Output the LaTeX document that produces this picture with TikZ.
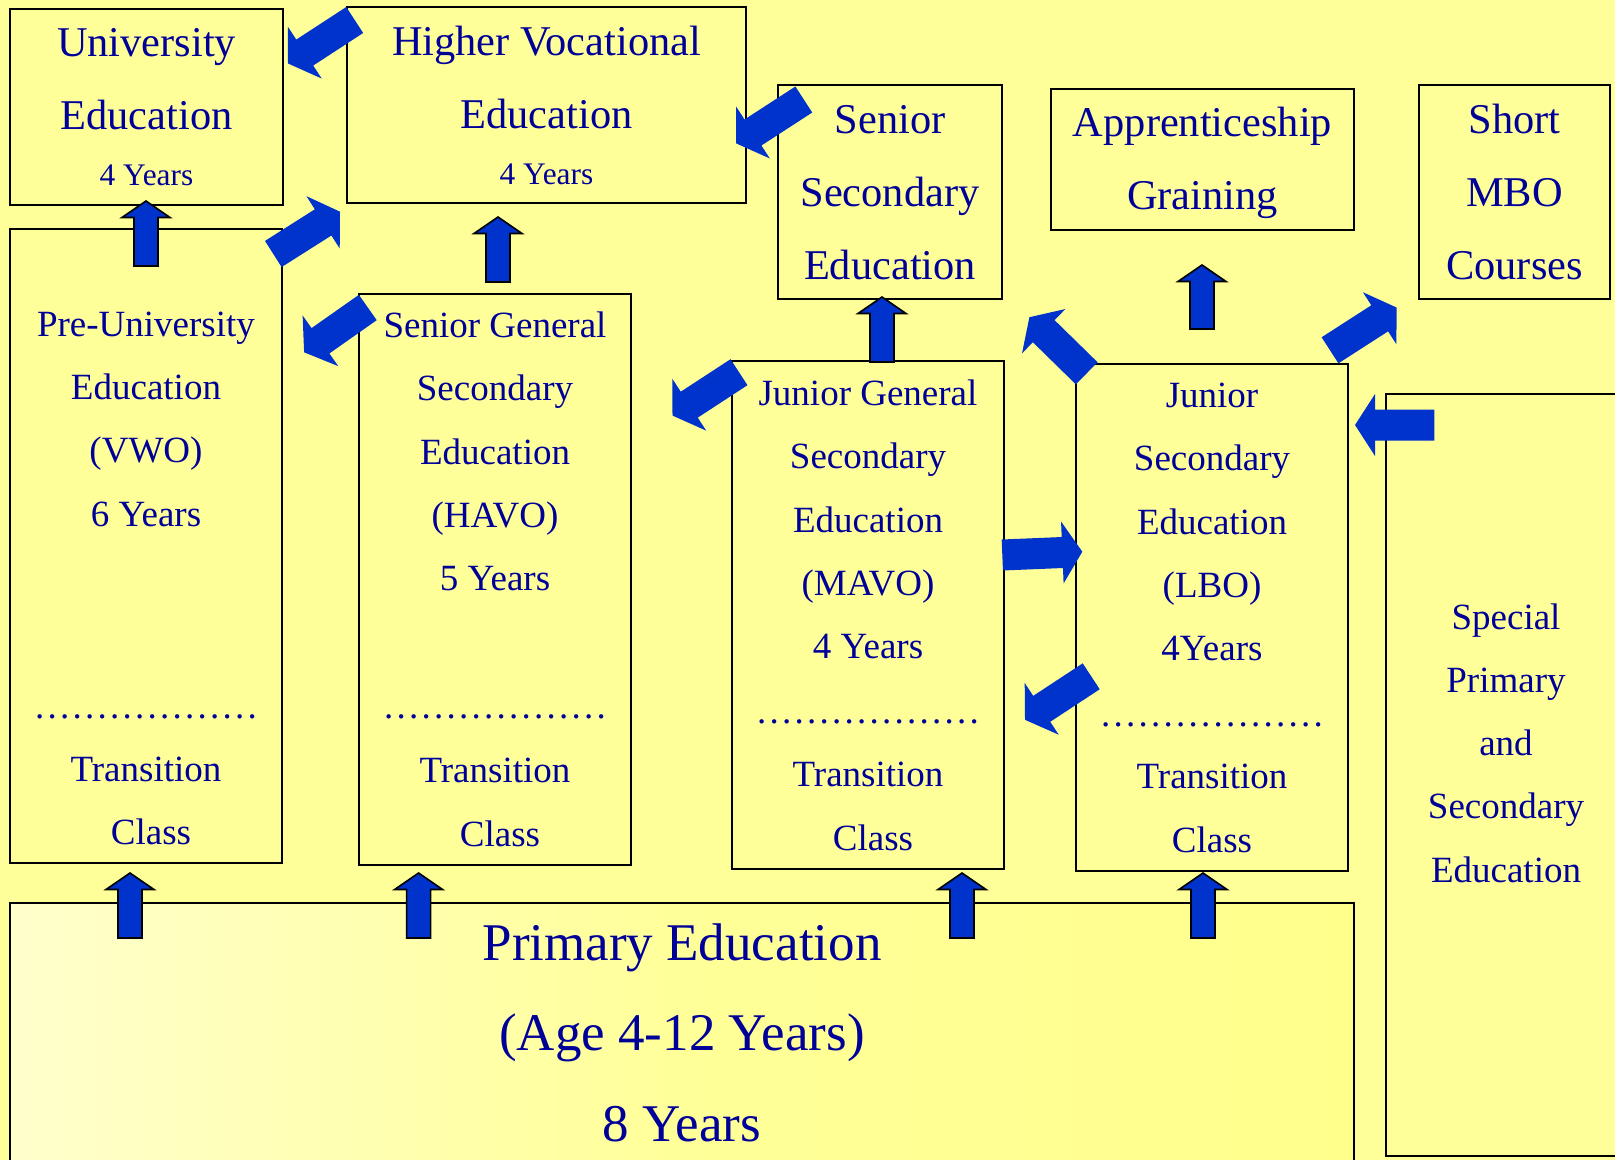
\documentclass[tikz,border=0pt]{standalone}
\usepackage{fontspec}
\setmainfont{Liberation Serif}
\usetikzlibrary{calc,fit}
\definecolor{paper}{RGB}{255,255,153}
\definecolor{ink}{RGB}{0,0,153}
\definecolor{arrowblue}{RGB}{0,51,204}
\definecolor{paperlight}{RGB}{255,255,204}
\definecolor{paperdeep}{RGB}{255,255,140}

\tikzset{
  box/.style={draw=black, line width=1pt, fill=paper, inner sep=0pt},
  txt/.style={text=ink, anchor=base, inner sep=0pt, font=\fontsize{18.5}{22}\selectfont},
  headtxt/.style={txt, font=\fontsize{21.2}{25}\selectfont},
  yeartxt/.style={txt, font=\fontsize{15.7}{19}\selectfont},
  primtxt/.style={txt, font=\fontsize{26.5}{31}\selectfont},
  flat/.style={fill=arrowblue, draw=none},
  edged/.style={fill=arrowblue, draw=black, line width=0.8pt, line join=miter},
}

% fat arrow: [style]{tail}{tip}{half shaft}{half head}{head length}
\newcommand{\blockarrow}[6][flat]{%
  \path ($(#3)!#6!(#2)$) coordinate (ba-base);
  \filldraw[#1] ($(#2)!#4!90:(#3)$) -- ($(ba-base)!#4!90:(#3)$)
    -- ($(ba-base)!#5!90:(#3)$) -- (#3) -- ($(ba-base)!#5!-90:(#3)$)
    -- ($(ba-base)!#4!-90:(#3)$) -- ($(#2)!#4!-90:(#3)$) -- cycle;}
\newcommand{\dotrow}{\hbox to 112.5pt{\leaders\hbox to 6.25pt{\hss.\hss}\hfill}}

\begin{document}
\begin{tikzpicture}[x=0.5pt, y=-0.5pt]
  \useasboundingbox (0,0) rectangle (1615,1160);
  \fill[paper] (0,0) rectangle (1615,1160);

  % boxes
  \node[box, fit={(10,9) (283,205)}] (uni) {};
  \node[box, fit={(347,7) (746,203)}] (hbo) {};
  \node[box, fit={(778,85) (1002,299)}] (mbo) {};
  \node[box, fit={(1051,89) (1354,230)}] (app) {};
  \node[box, fit={(1419,85) (1610,299)}] (short) {};
  \node[box, fit={(10,229) (282,863)}] (vwo) {};
  \node[box, fit={(359,294) (631,865)}] (havo) {};
  \node[box, fit={(732,361) (1004,869)}] (mavo) {};
  \node[box, fit={(1076,364) (1348,871)}] (lbo) {};
  \node[box, fit={(1386,394) (1626,1156)}] (special) {};
  \node[box, left color=paperlight, right color=paperdeep, middle color=paper,
        fit={(10,903) (1354,1175)}] (prim) {};

  % top row texts
  \node[headtxt] (uni1) at (146.5,57) {University};
  \node[headtxt] (uni2) at (146.5,130) {Education};
  \node[yeartxt] (uni3) at (146.5,186) {4 Years};
  \node[headtxt] (hbo1) at (546.5,56) {Higher Vocational};
  \node[headtxt] (hbo2) at (546.5,128.3) {Education};
  \node[yeartxt] (hbo3) at (546.5,184.3) {4 Years};
  \node[headtxt] (mbo1) at (890,134) {Senior};
  \node[headtxt] (mbo2) at (890,206.7) {Secondary};
  \node[headtxt] (mbo3) at (890,279.3) {Education};
  \node[headtxt] (app1) at (1202.5,136.7) {Apprenticeship};
  \node[headtxt] (app2) at (1202.5,210) {Graining};
  \node[headtxt] (short1) at (1514.5,133.3) {Short};
  \node[headtxt] (short2) at (1514.5,206.7) {MBO};
  \node[headtxt] (short3) at (1514.5,279.3) {Courses};

  % tall boxes
  \foreach \t [count=\i from 0] in {Pre-University,Education,(VWO),6 Years}
    \node[txt] (vwo\i) at (146,336.5+63.2*\i) {\t};
  \foreach \t [count=\i from 0] in {Senior General,Secondary,Education,(HAVO),5 Years}
    \node[txt] (havo\i) at (495,337.5+63.3*\i) {\t};
  \foreach \t [count=\i from 0] in {Junior General,Secondary,Education,(MAVO),4 Years}
    \node[txt] (mavo\i) at (868,405.5+63.3*\i) {\t};
  \foreach \t [count=\i from 0] in {Junior,Secondary,Education,(LBO),4Years}
    \node[txt] (lbo\i) at (1212,407.5+63.3*\i) {\t};
  \foreach \t [count=\i from 0] in {Special,Primary,and,Secondary,Education}
    \node[txt] (special\i) at (1506,629+63.3*\i) {\t};

  \node[txt] (vwodots) at (146,718) {\dotrow};
  \node[txt] (havodots) at (495,718) {\dotrow};
  \node[txt] (mavodots) at (868,723) {\dotrow};
  \node[txt] (lbodots) at (1212,726) {\dotrow};
  \node[txt] (vwotr) at (146,781) {Transition};
  \node[txt] (vwocl) at (151,844.5) {Class};
  \node[txt] (havotr) at (495,782.4) {Transition};
  \node[txt] (havocl) at (500,846) {Class};
  \node[txt] (mavotr) at (868,786.6) {Transition};
  \node[txt] (mavocl) at (873,850) {Class};
  \node[txt] (lbotr) at (1212,788.6) {Transition};
  \node[txt] (lbocl) at (1212,852) {Class};

  \node[primtxt] (prim1) at (682,960) {Primary Education};
  \node[primtxt] (prim2) at (682,1050.7) {(Age 4-12 Years)};
  \node[primtxt] (prim3) at (682,1141.7) {8 Years};

  % arrow ends
  \coordinate (vwo-s) at (146,266);   \coordinate (vwo-e) at (146,201);
  \coordinate (havo-s) at (498,282);  \coordinate (havo-e) at (498,217);
  \coordinate (mavo-s) at (882,362);  \coordinate (mavo-e) at (882,297);
  \coordinate (app-s) at (1202,329);  \coordinate (app-e) at (1202,265);
  \coordinate (p1-s) at (130,938);    \coordinate (p1-e) at (130,873);
  \coordinate (p2-s) at (418.6,938);  \coordinate (p2-e) at (418.6,873);
  \coordinate (p3-s) at (962,938);    \coordinate (p3-e) at (962,873);
  \coordinate (p4-s) at (1203,938);   \coordinate (p4-e) at (1203,873);

  \coordinate (hu-s) at (354.7,20);     \coordinate (hu-e) at (288,63.5);
  \coordinate (vh-s) at (273.3,254);    \coordinate (vh-e) at (340,211.7);
  \coordinate (hv-s) at (367.8,307.5);  \coordinate (hv-e) at (304.1,352.3);
  \coordinate (mh-s) at (803.8,99.5);   \coordinate (mh-e) at (736.2,143.4);
  \coordinate (jh-s) at (739,372.2);    \coordinate (jh-e) at (672.5,415.6);
  \coordinate (lm-s) at (1086.7,373.3); \coordinate (lm-e) at (1029.4,317.2);
  \coordinate (ls-s) at (1330,350.3);   \coordinate (ls-e) at (1396.5,307.5);
  \coordinate (sl-s) at (1434.3,425);   \coordinate (sl-e) at (1355,425);
  \coordinate (jl-s) at (1002.3,555);   \coordinate (jl-e) at (1082.3,551.7);
  \coordinate (lj-s) at (1091.2,676.3); \coordinate (lj-e) at (1025,719.8);

  % arrows
  \foreach \a in {vwo,havo,mavo,app,p1,p2,p3,p4}
    \blockarrow[edged]{\a-s}{\a-e}{6pt}{12pt}{8.25pt};
  \foreach \a in {hu,vh,hv,mh,jh,lm,ls,sl,jl,lj}
    \blockarrow{\a-s}{\a-e}{7.75pt}{15.5pt}{10pt};
\end{tikzpicture}
\end{document}
